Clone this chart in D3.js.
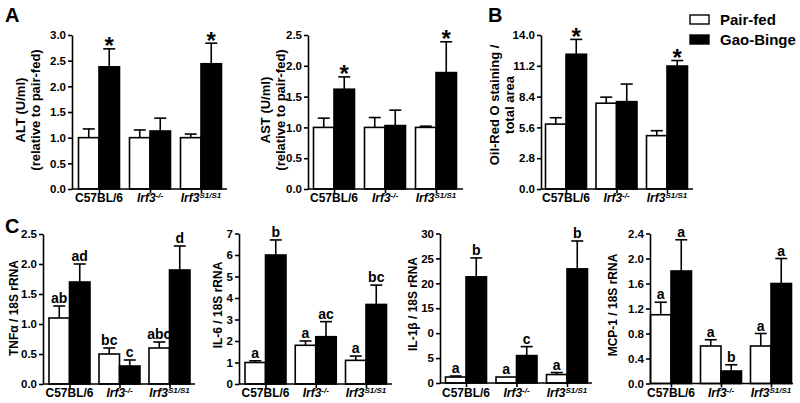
<!DOCTYPE html>
<html><head><meta charset="utf-8">
<script src="https://cdn.jsdelivr.net/npm/d3@7"></script>
<style>
html,body{margin:0;padding:0;background:#fff;}
svg{display:block;font-family:"Liberation Sans",Arial,sans-serif;font-weight:bold;}
</style></head>
<body>
<svg id="chart" width="800" height="403"></svg>
<script>
// ---------- DATA ----------
const groups = ["C57BL/6", "Irf3-/-", "Irf3S1/S1"];
const groupBase = ["C57BL/6", "Irf3", "Irf3"];
const groupSup = ["", "-/-", "S1/S1"];
const seriesNames = ["Pair-fed", "Gao-Binge"];

const altPair = [1.0, 1.0, 1.0];
const altPairErr = [0.17, 0.15, 0.07];
const altGao = [2.38, 1.13, 2.44];
const altGaoErr = [0.35, 0.25, 0.40];
const altPairMark = ["", "", ""];
const altGaoMark = ["*", "", "*"];
const altTicks = [0, 0.5, 1.0, 1.5, 2.0, 2.5, 3.0];

const astPair = [1.0, 1.0, 1.0];
const astPairErr = [0.15, 0.16, 0.02];
const astGao = [1.62, 1.03, 1.89];
const astGaoErr = [0.20, 0.25, 0.50];
const astPairMark = ["", "", ""];
const astGaoMark = ["*", "", "*"];
const astTicks = [0, 0.5, 1.0, 1.5, 2.0, 2.5];

const oilPair = [5.9, 7.8, 4.85];
const oilPairErr = [0.58, 0.55, 0.45];
const oilGao = [12.25, 7.94, 11.18];
const oilGaoErr = [1.35, 1.6, 0.5];
const oilPairMark = ["", "", ""];
const oilGaoMark = ["*", "", "*"];
const oilTicks = [0, 2.8, 5.6, 8.4, 11.2, 14.0];

const tnfPair = [1.1, 0.5, 0.6];
const tnfPairErr = [0.2, 0.1, 0.1];
const tnfGao = [1.7, 0.3, 1.9];
const tnfGaoErr = [0.3, 0.1, 0.4];
const tnfPairMark = ["ab", "bc", "abc"];
const tnfGaoMark = ["ad", "c", "d"];
const tnfTicks = [0, 0.5, 1.0, 1.5, 2.0, 2.5];

const il6Pair = [1.0, 1.8, 1.1];
const il6PairErr = [0.08, 0.2, 0.2];
const il6Gao = [6.0, 2.2, 3.7];
const il6GaoErr = [0.7, 0.7, 0.9];
const il6PairMark = ["a", "a", "a"];
const il6GaoMark = ["b", "ac", "bc"];
const il6Ticks = [0, 1, 2, 3, 4, 5, 6, 7];

const il1bPair = [1.2, 1.2, 1.7];
const il1bPairErr = [0.2, 0, 0.4];
const il1bGao = [21.3, 5.5, 22.9];
const il1bGaoErr = [3.8, 1.8, 5.6];
const il1bPairMark = ["a", "a", "a"];
const il1bGaoMark = ["b", "c", "b"];
const il1bTicks = [0, 5, 10, 15, 20, 25, 30];
const il1bTickLabels = ["0", "5", "0", "15", "20", "25", "30"];

const mcpPair = [1.1, 0.6, 0.6];
const mcpPairErr = [0.2, 0.1, 0.2];
const mcpGao = [1.8, 0.2, 1.6];
const mcpGaoErr = [0.5, 0.1, 0.4];
const mcpPairMark = ["a", "a", "a"];
const mcpGaoMark = ["a", "b", "a"];
const mcpTicks = [0, 0.4, 0.8, 1.2, 1.6, 2.0, 2.4];

// ---------- DRAW ----------
const svg = d3.select("#chart");
const BW = 20.5;

function panel(cfg) {
  const g = svg.append("g");
  const y = d3.scaleLinear().domain([0, cfg.max]).range([cfg.yBot, cfg.yTop]);
  const x = d3.scalePoint().domain(groups).range([cfg.c0, cfg.c2]);

  const rows = groups.map((grp, i) => [
    {grp, s: 0, v: cfg.pair[i], e: cfg.pairErr[i], m: cfg.pairMark[i]},
    {grp, s: 1, v: cfg.gao[i], e: cfg.gaoErr[i], m: cfg.gaoMark[i]}
  ]).flat();

  rows.forEach(d => {
    const bx = d.s === 0 ? x(d.grp) - BW : x(d.grp);
    const cx = bx + BW / 2;
    if (d.e > 0) {
      g.append("line").attr("x1", cx).attr("x2", cx)
        .attr("y1", y(d.v)).attr("y2", y(d.v + d.e))
        .attr("stroke", "#000").attr("stroke-width", 1.6);
      g.append("line").attr("x1", cx - 6).attr("x2", cx + 6)
        .attr("y1", y(d.v + d.e)).attr("y2", y(d.v + d.e))
        .attr("stroke", "#000").attr("stroke-width", 1.6);
    }
    g.append("rect").attr("x", bx).attr("y", y(d.v))
      .attr("width", BW).attr("height", y(0) - y(d.v))
      .attr("fill", d.s === 0 ? "#fff" : "#000")
      .attr("stroke", "#000").attr("stroke-width", 1.6);
    if (d.m) {
      const star = d.m === "*";
      g.append("text").attr("x", cx)
        .attr("y", y(d.v + d.e) + (star ? 5.5 : -3))
        .attr("text-anchor", "middle")
        .attr("font-size", star ? 24 : 14)
        .text(d.m);
    }
  });

  // y axis
  const ya = d3.axisLeft(y).tickValues(cfg.ticks).tickSize(4).tickSizeOuter(0).tickPadding(2)
    .tickFormat((v, i) => cfg.tickLabels ? cfg.tickLabels[i] : d3.format(cfg.fmt)(v));
  const yg = g.append("g").attr("transform", `translate(${cfg.x0},0)`).call(ya);
  yg.selectAll("path,line").attr("stroke", "#000").attr("stroke-width", 1.6);
  yg.selectAll("text").attr("font-size", 11.5).attr("font-weight", "bold")
    .attr("font-family", '"Liberation Sans",Arial,sans-serif').attr("fill", "#000");

  // x axis
  const xa = d3.axisBottom(x).tickSize(4).tickSizeOuter(0).tickFormat("");
  const xg = g.append("g").attr("transform", `translate(0,${cfg.yBot})`).call(xa);
  xg.select(".domain").remove();
  xg.selectAll("line").attr("stroke", "#000").attr("stroke-width", 1.6);
  g.append("line").attr("x1", cfg.x0).attr("x2", cfg.x1)
    .attr("y1", cfg.yBot).attr("y2", cfg.yBot)
    .attr("stroke", "#000").attr("stroke-width", 1.6);

  groups.forEach((grp, i) => {
    const t = g.append("text").attr("x", x(grp)).attr("y", cfg.yBot + cfg.labDy)
      .attr("text-anchor", "middle").attr("font-size", 12);
    if (groupSup[i]) {
      t.append("tspan").attr("font-style", "italic").text(groupBase[i]);
      t.append("tspan").attr("font-style", "italic").attr("font-size", 8)
        .attr("dy", -4).text(groupSup[i]);
    } else {
      t.text(groupBase[i]);
    }
  });

  cfg.ylab.forEach((lab, k) => {
    g.append("text")
      .attr("transform", `translate(${cfg.ylabX[k]},${cfg.ylabY}) rotate(-90)`)
      .attr("text-anchor", "middle").attr("dy", "0.35em")
      .attr("font-size", cfg.ylabSize).text(lab);
  });
}

panel({pair: altPair, pairErr: altPairErr, gao: altGao, gaoErr: altGaoErr,
  pairMark: altPairMark, gaoMark: altGaoMark, ticks: altTicks, fmt: ".1f", max: 3,
  x0: 72, x1: 227, c0: 99, c2: 201, yTop: 35, yBot: 189, labDy: 12.5,
  ylab: ["ALT (U/ml)", "(relative to pair-fed)"], ylabX: [20, 35], ylabY: 110, ylabSize: 13});

panel({pair: astPair, pairErr: astPairErr, gao: astGao, gaoErr: astGaoErr,
  pairMark: astPairMark, gaoMark: astGaoMark, ticks: astTicks, fmt: ".1f", max: 2.5,
  x0: 308, x1: 463, c0: 334, c2: 436, yTop: 35, yBot: 189, labDy: 12.5,
  ylab: ["AST (U/ml)", "(relative to pair-fed)"], ylabX: [265, 280], ylabY: 110, ylabSize: 13});

panel({pair: oilPair, pairErr: oilPairErr, gao: oilGao, gaoErr: oilGaoErr,
  pairMark: oilPairMark, gaoMark: oilGaoMark, ticks: oilTicks, fmt: ".1f", max: 14,
  x0: 541, x1: 693, c0: 566, c2: 667, yTop: 35, yBot: 189, labDy: 12.5,
  ylab: ["Oil-Red O staining /", "total area"], ylabX: [494, 509], ylabY: 105, ylabSize: 13});

panel({pair: tnfPair, pairErr: tnfPairErr, gao: tnfGao, gaoErr: tnfGaoErr,
  pairMark: tnfPairMark, gaoMark: tnfGaoMark, ticks: tnfTicks, fmt: ".1f", max: 2.5,
  x0: 43, x1: 195, c0: 69.5, c2: 169.5, yTop: 234, yBot: 384, labDy: 12.5,
  ylab: ["TNFα / 18S rRNA"], ylabX: [14], ylabY: 308, ylabSize: 12});

panel({pair: il6Pair, pairErr: il6PairErr, gao: il6Gao, gaoErr: il6GaoErr,
  pairMark: il6PairMark, gaoMark: il6GaoMark, ticks: il6Ticks, fmt: "d", max: 7,
  x0: 239, x1: 392, c0: 265.5, c2: 366, yTop: 233.5, yBot: 384, labDy: 12.5,
  ylab: ["IL-6 / 18S rRNA"], ylabX: [218], ylabY: 305, ylabSize: 12});

panel({pair: il1bPair, pairErr: il1bPairErr, gao: il1bGao, gaoErr: il1bGaoErr,
  pairMark: il1bPairMark, gaoMark: il1bGaoMark, ticks: il1bTicks, tickLabels: il1bTickLabels, max: 30,
  x0: 440, x1: 592, c0: 466, c2: 567, yTop: 233.5, yBot: 383, labDy: 13.5,
  ylab: ["IL-1β / 18S rRNA"], ylabX: [413], ylabY: 304, ylabSize: 12});

panel({pair: mcpPair, pairErr: mcpPairErr, gao: mcpGao, gaoErr: mcpGaoErr,
  pairMark: mcpPairMark, gaoMark: mcpGaoMark, ticks: mcpTicks, fmt: ".1f", max: 2.4,
  x0: 650, x1: 793, c0: 671, c2: 771, yTop: 233.5, yBot: 383.5, labDy: 13,
  ylab: ["MCP-1 / 18S rRNA"], ylabX: [613], ylabY: 305, ylabSize: 12});

[["A", 5, 22], ["B", 488, 22], ["C", 5, 233]].forEach(([t, x, y]) =>
  svg.append("text").attr("x", x).attr("y", y).attr("font-size", 20).text(t));

seriesNames.forEach((name, i) => {
  svg.append("rect").attr("x", 690).attr("y", 15 + i * 20).attr("width", 19).attr("height", 9)
    .attr("fill", i === 0 ? "#fff" : "#000").attr("stroke", "#000").attr("stroke-width", 1.4);
  svg.append("text").attr("x", 720).attr("y", 25 + i * 20).attr("font-size", 15).text(name);
});
</script>
</body></html>
